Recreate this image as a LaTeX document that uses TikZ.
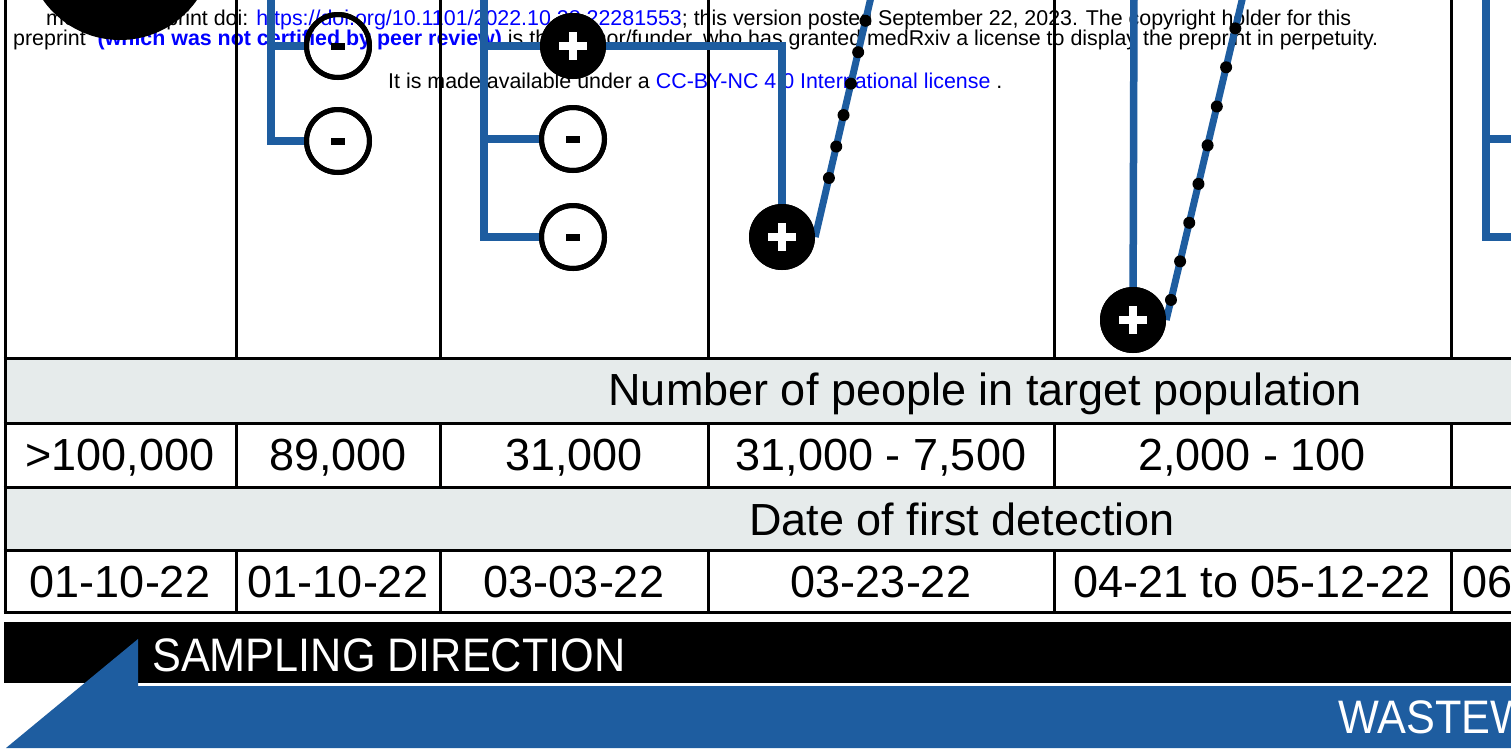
\documentclass[tikz,border=0pt]{standalone}
\usepackage{fontspec}
\setmainfont{Liberation Sans}
\definecolor{figblue}{HTML}{1E5DA0}
\definecolor{bandgray}{HTML}{E6EBEB}
\definecolor{linkblue}{RGB}{0,0,255}
\begin{document}
\begin{tikzpicture}[x=1pt,y=-1pt,
  tline/.style={line width=3pt,black},
  blueline/.style={line width=7.5pt,figblue},
  diagline/.style={line width=7pt,figblue},
  minusnode/.style={circle,draw=black,line width=5pt,minimum size=63pt,inner sep=0pt},
  plusnode/.style={circle,fill=black,minimum size=66pt,inner sep=0pt,
    path picture={
      \fill[white] ([shift={(-14pt,-4pt)}]path picture bounding box.center) rectangle ([shift={(14pt,4pt)}]path picture bounding box.center);
      \fill[white] ([shift={(-4pt,-14pt)}]path picture bounding box.center) rectangle ([shift={(4pt,14pt)}]path picture bounding box.center);
    }},
  bignode/.style={circle,fill=black,minimum size=188pt,inner sep=0pt},
  dotnode/.style={circle,fill=black,minimum size=12pt,inner sep=0pt},
  hdr/.style={font=\fontsize{21.4}{24}\selectfont,inner sep=0pt,anchor=base west},
  celltext/.style={font=\fontsize{45}{50}\selectfont,inner sep=0pt,anchor=base},
  bandtext/.style={font=\fontsize{45}{50}\selectfont,inner sep=0pt,anchor=base},
  bartext/.style={font=\fontsize{47}{50}\selectfont,text=white,inner sep=0pt,anchor=base west}
]
\useasboundingbox (0,0) rectangle (1511,748);
\fill[white] (0,0) rectangle (1511,748);

% header stamp
\node[hdr] (h1) at (46,25) {medRxiv preprint doi: \textcolor{linkblue}{https://doi.org/10.1101/2022.10.28.22281553}; this version posted September 22, 2023. The copyright holder for this};
\node[hdr] (h2) at (13,45) {preprint \ \textcolor{linkblue}{\bfseries (which was not certified by peer review)} is the author/funder, who has granted medRxiv a license to display the preprint in perpetuity.};
\node[hdr] (h3) at (388,88) {It is made available under a \textcolor{linkblue}{CC-BY-NC 4.0 International license} .};

% table
\fill[bandgray] (5,358) rectangle (1511,423);
\fill[bandgray] (5,487) rectangle (1511,550);
\foreach \x in {236,440,708,1054,1451} {
  \draw[tline] (\x,-2) -- (\x,358);
  \draw[tline] (\x,423) -- (\x,487);
  \draw[tline] (\x,550) -- (\x,612);
}
\draw[tline] (5,-2) -- (5,613.5);
\foreach \y in {358,423,487,550,612} { \draw[tline] (3.5,\y) -- (1513,\y); }

\node[bandtext] (band1) at (985,405) {Number of people in target population};
\node[bandtext] (band2) at (962,535) {Date of first detection};

\node[celltext] (n1) at (120,470) {>100,000};
\node[celltext] (n2) at (338,470) {89,000};
\node[celltext] (n3) at (574,470) {31,000};
\node[celltext] (n4) at (881,470) {31,000 - 7,500};
\node[celltext] (n5) at (1252,470) {2,000 - 100};

\node[celltext] (d1) at (120,597) {01-10-22};
\node[celltext] (d2) at (338,597) {01-10-22};
\node[celltext] (d3) at (574,597) {03-03-22};
\node[celltext] (d4) at (881,597) {03-23-22};
\node[celltext] (d5) at (1252,597) {04-21 to 05-12-22};
\node[celltext,anchor=base west] (d6) at (1462,597) {06};

% sampling direction bar
\fill[black] (4,622) rectangle (1511,683);
\fill[figblue] (6,748) -- (138,639) -- (138,686) -- (1511,686) -- (1511,748) -- cycle;
\node[bartext] (sd) at (152,671) {\scalebox{0.92}[1]{SAMPLING DIRECTION}};
\node[bartext] (ww) at (1338,733) {\scalebox{0.92}[1]{WASTEW}};

% coordinates
\coordinate (c2top) at (271,-6);
\coordinate (j2a) at (271,46);
\coordinate (c3top) at (484,-6);
\coordinate (j3a) at (484,46);
\coordinate (j3b) at (484,139);
\coordinate (c5top) at (1134,-6);
\coordinate (c6top) at (1486,-6);
\coordinate (j6a) at (1486,139);
\coordinate (e6a) at (1516,139);
\coordinate (e6b) at (1516,237);
\coordinate (t4) at (871,-3);
\coordinate (t5) at (1243,-4);

% nodes (circles)
\node[bignode] (big) at (120,-54) {};
\node[minusnode] (m1) at (338,46) {\rule{14pt}{7pt}};
\node[minusnode] (m2) at (338,141) {\rule{14pt}{7pt}};
\node[minusnode] (m3) at (573,139) {\rule{14pt}{7pt}};
\node[minusnode] (m4) at (573,237) {\rule{14pt}{7pt}};
\node[plusnode] (p3) at (573,46) {};
\node[plusnode] (p4) at (782,237) {};
\node[plusnode] (p5) at (1133,320) {};

% blue connectors
\draw[blueline] (c2top) |- (m2);
\draw[blueline] (j2a) -- (m1);
\draw[blueline] (c3top) |- (m4);
\draw[blueline] (j3b) -- (m3);
\draw[blueline] (j3a) -- (p3);
\draw[blueline] (p3) -| (p4);
\draw[blueline] (c5top) -- (p5);
\draw[blueline] (c6top) |- (e6b);
\draw[blueline] (j6a) -- (e6a);
\draw[diagline] (p4.east) -- (t4)
  node[dotnode,pos=0.246] (d41) {}
  node[dotnode,pos=0.377] (d42) {}
  node[dotnode,pos=0.508] (d43) {}
  node[dotnode,pos=0.639] (d44) {}
  node[dotnode,pos=0.770] (d45) {}
  node[dotnode,pos=0.901] (d46) {};
\draw[diagline] (p5.east) -- (t5)
  node[dotnode,pos=0.062] (d51) {}
  node[dotnode,pos=0.181] (d52) {}
  node[dotnode,pos=0.300] (d53) {}
  node[dotnode,pos=0.420] (d54) {}
  node[dotnode,pos=0.539] (d55) {}
  node[dotnode,pos=0.659] (d56) {}
  node[dotnode,pos=0.780] (d57) {}
  node[dotnode,pos=0.900] (d58) {};

% circles on top of the connectors
\node[minusnode] at (m1) {};
\node[minusnode] at (m2) {};
\node[minusnode] at (m3) {};
\node[minusnode] at (m4) {};
\node[plusnode] at (p3) {};
\node[plusnode] at (p4) {};
\node[plusnode] at (p5) {};
\end{tikzpicture}
\end{document}
